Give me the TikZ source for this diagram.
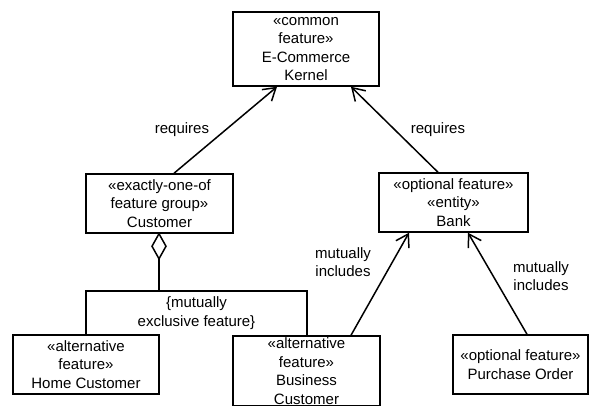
\documentclass[tikz,border=0pt]{standalone}
\usepackage{fontspec}
\setmainfont{Liberation Sans}
\usetikzlibrary{arrows.meta,calc}

\begin{document}
\begin{tikzpicture}[x=1pt,y=-1pt,
  txt/.style={font=\fontsize{15}{18.5}\selectfont,align=center,inner sep=0pt},
  box/.style={txt,draw,line width=1.5pt,rectangle},
  lbl/.style={txt},
  edge/.style={line width=1.5pt},
  conn/.style={edge,-{Straight Barb[length=12pt,width=15pt,line width=1.5pt]}},
]
\useasboundingbox (0,0) rectangle (590,405);

% feature boxes
\node[box,minimum width=146pt,minimum height=74pt] (kern) at (306,49)
  {«common\\feature»\\E-Commerce\\Kernel};
\node[box,minimum width=147pt,minimum height=59pt] (cust) at (159.5,203.5)
  {«exactly-one-of\\feature group»\\Customer};
\node[box,minimum width=149pt,minimum height=59pt] (bank) at (453.5,202.5)
  {«optional feature»\\«entity»\\Bank};
\node[txt,minimum width=221pt,minimum height=44pt] (grp) at (196.5,313)
  {\{mutually\\exclusive feature\}};
\node[box,minimum width=146pt,minimum height=59pt] (home) at (86,364.5)
  {«alternative\\feature»\\Home Customer};
\node[box,minimum width=147pt,minimum height=70pt] (bus) at (306.5,371)
  {«alternative\\feature»\\Business\\Customer};
\node[box,minimum width=135pt,minimum height=59pt] (po) at (520.5,364.5)
  {«optional feature»\\Purchase Order};

% group frame, open at the bottom
\draw[edge] (grp.south west) -- (grp.north west) -- (grp.north east) -- (grp.south east);

% aggregation diamond under Customer
\coordinate (dtop) at ([xshift=-0.5pt]cust.south);
\draw[edge,fill=white] (dtop) -- ++(7,12.5) -- ++(-7,12.5) coordinate (dbot)
  -- ++(-7,-12.5) -- cycle;
\draw[edge] (dbot) -- (dbot |- grp.north);

% dependencies
\draw[conn] ([xshift=14.5pt]cust.north) -- ([xshift=-29pt]kern.south);
\draw[conn] ([xshift=-15.5pt]bank.north) -- ([xshift=45pt]kern.south);
\draw[conn] ([xshift=44.5pt]bus.north) -- ([xshift=-44.5pt]bank.south);
\draw[conn] ([xshift=6.5pt]po.north) -- ([xshift=14.5pt]bank.south);

% connector labels
\node[lbl] (rq1) at (182,130) {requires};
\node[lbl] (rq2) at (438,130) {requires};
\node[lbl] (mi1) at (343,262) {mutually\\includes};
\node[lbl] (mi2) at (541,276) {mutually\\includes};
\end{tikzpicture}
\end{document}
